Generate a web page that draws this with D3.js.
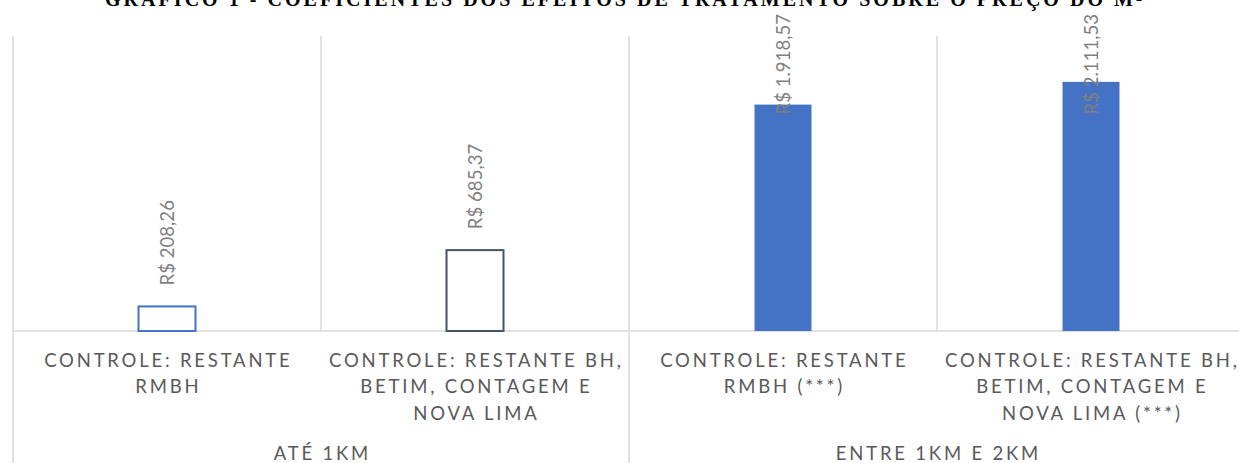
<!DOCTYPE html>
<html>
<head>
<meta charset="utf-8">
<script src="https://cdn.jsdelivr.net/npm/d3@7"></script>
<style>
  html, body { margin: 0; padding: 0; background: #fff; }
  svg { display: block; }
</style>
</head>
<body>
<svg id="chart" width="1239" height="463"></svg>
<script>
// Treatment-effect coefficients on price per m² (R$)
const categories = ["c1", "c2", "c3", "c4"];
const categoryLines = [
  ["CONTROLE: RESTANTE", "RMBH"],
  ["CONTROLE: RESTANTE BH,", "BETIM, CONTAGEM E", "NOVA LIMA"],
  ["CONTROLE: RESTANTE", "RMBH (***)"],
  ["CONTROLE: RESTANTE BH,", "BETIM, CONTAGEM E", "NOVA LIMA (***)"]
];
const groups = ["ATÉ 1KM", "ENTRE 1KM E 2KM"];
const groupOf = [0, 0, 1, 1];
const values = [208.26, 685.37, 1918.57, 2111.53];
const valueLabels = ["R$ 208,26", "R$ 685,37", "R$ 1.918,57", "R$ 2.111,53"];
const barStyles = [
  { fill: "#ffffff", stroke: "#4472C4" },
  { fill: "#ffffff", stroke: "#44546A" },
  { fill: "#4472C4", stroke: "#4472C4" },
  { fill: "#4472C4", stroke: "#4472C4" }
];
const yMax = 2500;
const title = "GRÁFICO 1 - COEFICIENTES DOS EFEITOS DE TRATAMENTO SOBRE O PREÇO DO M²";

const svg = d3.select("#chart");
const W = 1239, H = 463;
const plot = { left: 13, top: 36, bottom: 331, step: 308 };

const x = d3.scaleBand()
  .domain(categories)
  .range([plot.left, plot.left + plot.step * categories.length])
  .padding(0);
const y = d3.scaleLinear().domain([0, yMax]).range([plot.bottom, plot.top]);
const barW = x.bandwidth() * 0.185;

const grid = "#d9d9d9";

// Title (runs above the top edge)
svg.append("text")
  .attr("x", 623.5).attr("y", 6)
  .attr("text-anchor", "middle")
  .attr("font-family", "Liberation Serif, serif")
  .attr("font-weight", "bold")
  .attr("font-size", 20)
  .attr("textLength", 1037)
  .attr("lengthAdjust", "spacing")
  .attr("fill", "#000")
  .text(title);

// Category separators (plot area only; group edges run to the bottom)
categories.forEach((c, i) => {
  const gx = x(c);
  const isGroupEdge = i === 0 || groupOf[i] !== groupOf[i - 1];
  svg.append("line")
    .attr("x1", gx).attr("x2", gx)
    .attr("y1", plot.top).attr("y2", isGroupEdge ? H : plot.bottom)
    .attr("stroke", grid).attr("stroke-width", 1.5);
});
svg.append("line")
  .attr("x1", x.range()[1]).attr("x2", x.range()[1])
  .attr("y1", plot.top).attr("y2", H)
  .attr("stroke", grid).attr("stroke-width", 1.5);

// Baseline
svg.append("line")
  .attr("x1", plot.left).attr("x2", W)
  .attr("y1", y(0)).attr("y2", y(0))
  .attr("stroke", grid).attr("stroke-width", 1.5);

// Bars
svg.selectAll("rect.bar")
  .data(values)
  .enter().append("rect")
  .attr("class", "bar")
  .attr("x", (d, i) => x(categories[i]) + x.bandwidth() / 2 - barW / 2)
  .attr("y", d => y(d))
  .attr("width", barW)
  .attr("height", d => y(0) - y(d))
  .attr("fill", (d, i) => barStyles[i].fill)
  .attr("stroke", (d, i) => barStyles[i].stroke)
  .attr("stroke-width", (d, i) => barStyles[i].fill === "#ffffff" ? 2 : 0);

// Value labels, rotated, kept inside the top of the chart
const labelTop = 14;
values.forEach((v, i) => {
  const cx = x(categories[i]) + x.bandwidth() / 2;
  const t = svg.append("text")
    .attr("font-family", "Lato, sans-serif")
    .attr("font-size", 18.6)
    .attr("fill", "#7f7f7f")
    .attr("dy", "0.35em")
    .text(valueLabels[i]);
  const len = t.node().getComputedTextLength();
  const start = Math.max(y(v) - 21, labelTop + len);
  t.attr("transform", `translate(${cx},${start}) rotate(-90)`);
});

// Category labels
const catFont = { family: "Lato, sans-serif", size: 18.5, spacing: 2.8 };
categories.forEach((c, i) => {
  const cx = x(c) + x.bandwidth() / 2;
  categoryLines[i].forEach((line, k) => {
    svg.append("text")
      .attr("x", cx + catFont.spacing / 2)
      .attr("y", 366.5 + k * 26.6)
      .attr("text-anchor", "middle")
      .attr("font-family", catFont.family)
      .attr("font-size", catFont.size)
      .attr("letter-spacing", catFont.spacing)
      .attr("fill", "#595959")
      .text(line);
  });
});

// Group labels
groups.forEach((g, gi) => {
  const members = categories.filter((c, i) => groupOf[i] === gi);
  const x0 = x(members[0]);
  const x1 = x(members[members.length - 1]) + x.bandwidth();
  svg.append("text")
    .attr("x", (x0 + x1) / 2 + catFont.spacing / 2)
    .attr("y", 460)
    .attr("text-anchor", "middle")
    .attr("font-family", catFont.family)
    .attr("font-size", catFont.size)
    .attr("letter-spacing", catFont.spacing)
    .attr("fill", "#595959")
    .text(g);
});
</script>
</body>
</html>
